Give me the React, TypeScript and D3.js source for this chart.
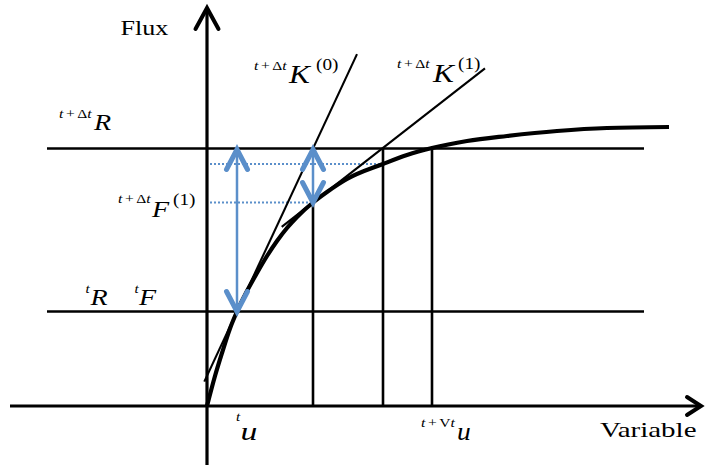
import React from 'react';
import * as d3 from 'd3';

// Response curve: flux as a function of the state variable
const curveU = [0, 0.8, 1.5, 2.3, 3.0, 4.0, 5.0, 6.0, 7.0, 8.0, 9.0, 10.6, 12.0, 14.0, 17.6, 20.0, 22.5, 26.0, 30.0, 35.0, 40.0, 46.2];
const curveFlux = [0, 3.0, 5.3, 7.75, 9.45, 11.5, 13.3, 15.0, 16.5, 17.8, 18.9, 20.35, 21.4, 22.7, 24.2, 25.1, 25.8, 26.5, 27.0, 27.5, 27.8, 27.9];

// Newton iterates: tu, u(1), u(2) and the flux reached at each
const iterU = [3.0, 10.6, 17.6];
const iterFlux = [9.45, 20.35, 24.2];
const convergedU = 22.5;
const fluxStart = 9.45;   // tR = tF
const fluxTarget = 25.75; // t+Δt R

// Tangent stiffness lines K(0) and K(1)
const tangentSlopes = [2.145, 0.78];
const tangentFrom = [-0.27, 7.47];
const tangentTo = [15.0, 27.8];

const axisSpanU = [-19.7, 49.4];
const axisSpanF = [-5.9, 39.8];
const levelSpanU = [-16, 43.7];

const axisTitles = ['Flux', 'Variable'];

const W = 705;
const H = 468;
const BLUE = '#5b8fca';
const SERIF = 'Liberation Serif';

const x = d3.scaleLinear().domain([0, 10]).range([207, 307]);
const y = d3.scaleLinear().domain([0, 10]).range([406, 306]);

const curvePath = d3
  .line<number>()
  .x((_, i) => x(curveU[i]))
  .y((d) => y(d))
  .curve(d3.curveMonotoneX)(curveFlux) as string;

function Chevron({ tx, ty, dir, len, half, color, width }: any) {
  let pts: [number, number][];
  if (dir === 'up') pts = [[tx - half, ty + len], [tx, ty], [tx + half, ty + len]];
  else if (dir === 'down') pts = [[tx - half, ty - len], [tx, ty], [tx + half, ty - len]];
  else pts = [[tx - len, ty - half], [tx, ty], [tx - len, ty + half]];
  return (
    <polyline
      points={pts.map((p) => p.join(',')).join(' ')}
      fill="none"
      stroke={color}
      strokeWidth={width}
      strokeLinecap="round"
      strokeLinejoin="miter"
    />
  );
}

function DoubleArrow({ u, f0, f1 }: { u: number; f0: number; f1: number }) {
  const top = y(f1) + 1;
  const bot = y(f0);
  const cx = x(u);
  return (
    <g>
      <line x1={cx} x2={cx} y1={top + 3} y2={bot - 3} stroke={BLUE} strokeWidth={2.5} />
      <Chevron tx={cx} ty={top} dir="up" len={20} half={10.5} color={BLUE} width={5} />
      <Chevron tx={cx} ty={bot} dir="down" len={20} half={10.5} color={BLUE} width={5} />
    </g>
  );
}

// Horizontally stretched serif text
function Txt({ xx, yy, sx = 1.25, size, italic = false, children }: any) {
  return (
    <text
      transform={`translate(${xx},${yy}) scale(${sx},1)`}
      fontFamily={SERIF}
      fontSize={size}
      fontStyle={italic ? 'italic' : 'normal'}
    >
      {children}
    </text>
  );
}

// "t+Δt" style left superscript
function Pre({ xx, yy, delta = 'Δ' }: any) {
  return (
    <Txt xx={xx} yy={yy} size={12} sx={1.3}>
      <tspan fontStyle="italic">t</tspan>
      <tspan dx={2}>+</tspan>
      <tspan dx={2}>{delta}</tspan>
      <tspan fontStyle="italic">t</tspan>
    </Txt>
  );
}

export default function App() {
  const [u0, u1, u2] = iterU;
  const [, f1, f2] = iterFlux;
  return (
    <svg width={W} height={H} style={{ position: 'absolute', left: 0, top: 0, background: '#fff' }}>
      {/* level lines */}
      <line x1={x(levelSpanU[0])} x2={x(levelSpanU[1])} y1={y(fluxTarget)} y2={y(fluxTarget)} stroke="#000" strokeWidth={2.4} />
      <line x1={x(levelSpanU[0])} x2={x(levelSpanU[1])} y1={y(fluxStart)} y2={y(fluxStart)} stroke="#000" strokeWidth={2.4} />

      {/* dotted flux markers */}
      <line x1={x(0.3)} x2={x(u1)} y1={y(f1)} y2={y(f1)} stroke={BLUE} strokeWidth={2} strokeDasharray="2,2" />
      <line x1={x(0.3)} x2={x(u2 - 0.3)} y1={y(f2)} y2={y(f2)} stroke={BLUE} strokeWidth={2} strokeDasharray="2,2" />

      {/* verticals */}
      <line x1={x(u1)} x2={x(u1)} y1={y(f1)} y2={y(0)} stroke="#000" strokeWidth={2.6} />
      <line x1={x(u2)} x2={x(u2)} y1={y(fluxTarget)} y2={y(0)} stroke="#000" strokeWidth={2.6} />
      <line x1={x(convergedU)} x2={x(convergedU)} y1={y(fluxTarget)} y2={y(0)} stroke="#000" strokeWidth={2.6} />

      {/* tangents */}
      {tangentSlopes.map((k, i) => {
        const pu = iterU[i];
        const pf = iterFlux[i];
        const a = tangentFrom[i];
        const b = tangentTo[i];
        return (
          <line
            key={i}
            x1={x(a)}
            y1={y(pf + k * (a - pu))}
            x2={x(b)}
            y2={y(pf + k * (b - pu))}
            stroke="#000"
            strokeWidth={2.1}
          />
        );
      })}

      {/* response curve */}
      <path d={curvePath} fill="none" stroke="#000" strokeWidth={4.2} />

      {/* axes */}
      <line x1={x(axisSpanU[0])} x2={x(axisSpanU[1]) - 2} y1={y(0)} y2={y(0)} stroke="#000" strokeWidth={3.2} />
      <Chevron tx={x(axisSpanU[1])} ty={y(0)} dir="right" len={14} half={9} color="#000" width={4} />
      <line x1={x(0)} x2={x(0)} y1={y(axisSpanF[0])} y2={y(axisSpanF[1]) + 2} stroke="#000" strokeWidth={3.2} />
      <Chevron tx={x(0)} ty={y(axisSpanF[1])} dir="up" len={21} half={11.5} color="#000" width={4} />

      {/* blue flux increments */}
      <DoubleArrow u={u0} f0={fluxStart} f1={fluxTarget} />
      <DoubleArrow u={u1} f0={f1} f1={fluxTarget} />

      {/* axis titles */}
      <Txt xx={120.5} yy={35} size={21} sx={1.24}>{axisTitles[0]}</Txt>
      <Txt xx={600} yy={437} size={21} sx={1.38}>{axisTitles[1]}</Txt>

      {/* t+Δt R */}
      <Pre xx={59} yy={118} />
      <Txt xx={94} yy={130} size={23} italic sx={1.22}>R</Txt>

      {/* t+Δt F(1) */}
      <Pre xx={118} yy={203} />
      <Txt xx={152} yy={216.5} size={23} italic sx={1.22}>F</Txt>
      <Txt xx={173} yy={205} size={16} sx={1.2}>(1)</Txt>

      {/* t+Δt K(0) */}
      <Pre xx={254} yy={70} />
      <Txt xx={289} yy={82.5} size={25} italic sx={1.25}>K</Txt>
      <Txt xx={316} yy={70} size={16} sx={1.2}>(0)</Txt>

      {/* t+Δt K(1) */}
      <Pre xx={397} yy={67.5} />
      <Txt xx={433} yy={82.3} size={25} italic sx={1.25}>K</Txt>
      <Txt xx={458} yy={69} size={16} sx={1.2}>(1)</Txt>

      {/* tR  tF */}
      <Txt xx={85.5} yy={293} size={12} italic>t</Txt>
      <Txt xx={90.5} yy={305} size={23} italic sx={1.22}>R</Txt>
      <Txt xx={134.5} yy={293} size={12} italic>t</Txt>
      <Txt xx={139} yy={305} size={23} italic sx={1.22}>F</Txt>

      {/* tu */}
      <Txt xx={236} yy={421} size={12} italic>t</Txt>
      <Txt xx={240.5} yy={440} size={25} italic sx={1.35}>u</Txt>

      {/* t+Vt u */}
      <Pre xx={421} yy={427} delta="V" />
      <Txt xx={457} yy={440} size={25} italic sx={1.1}>u</Txt>
    </svg>
  );
}
